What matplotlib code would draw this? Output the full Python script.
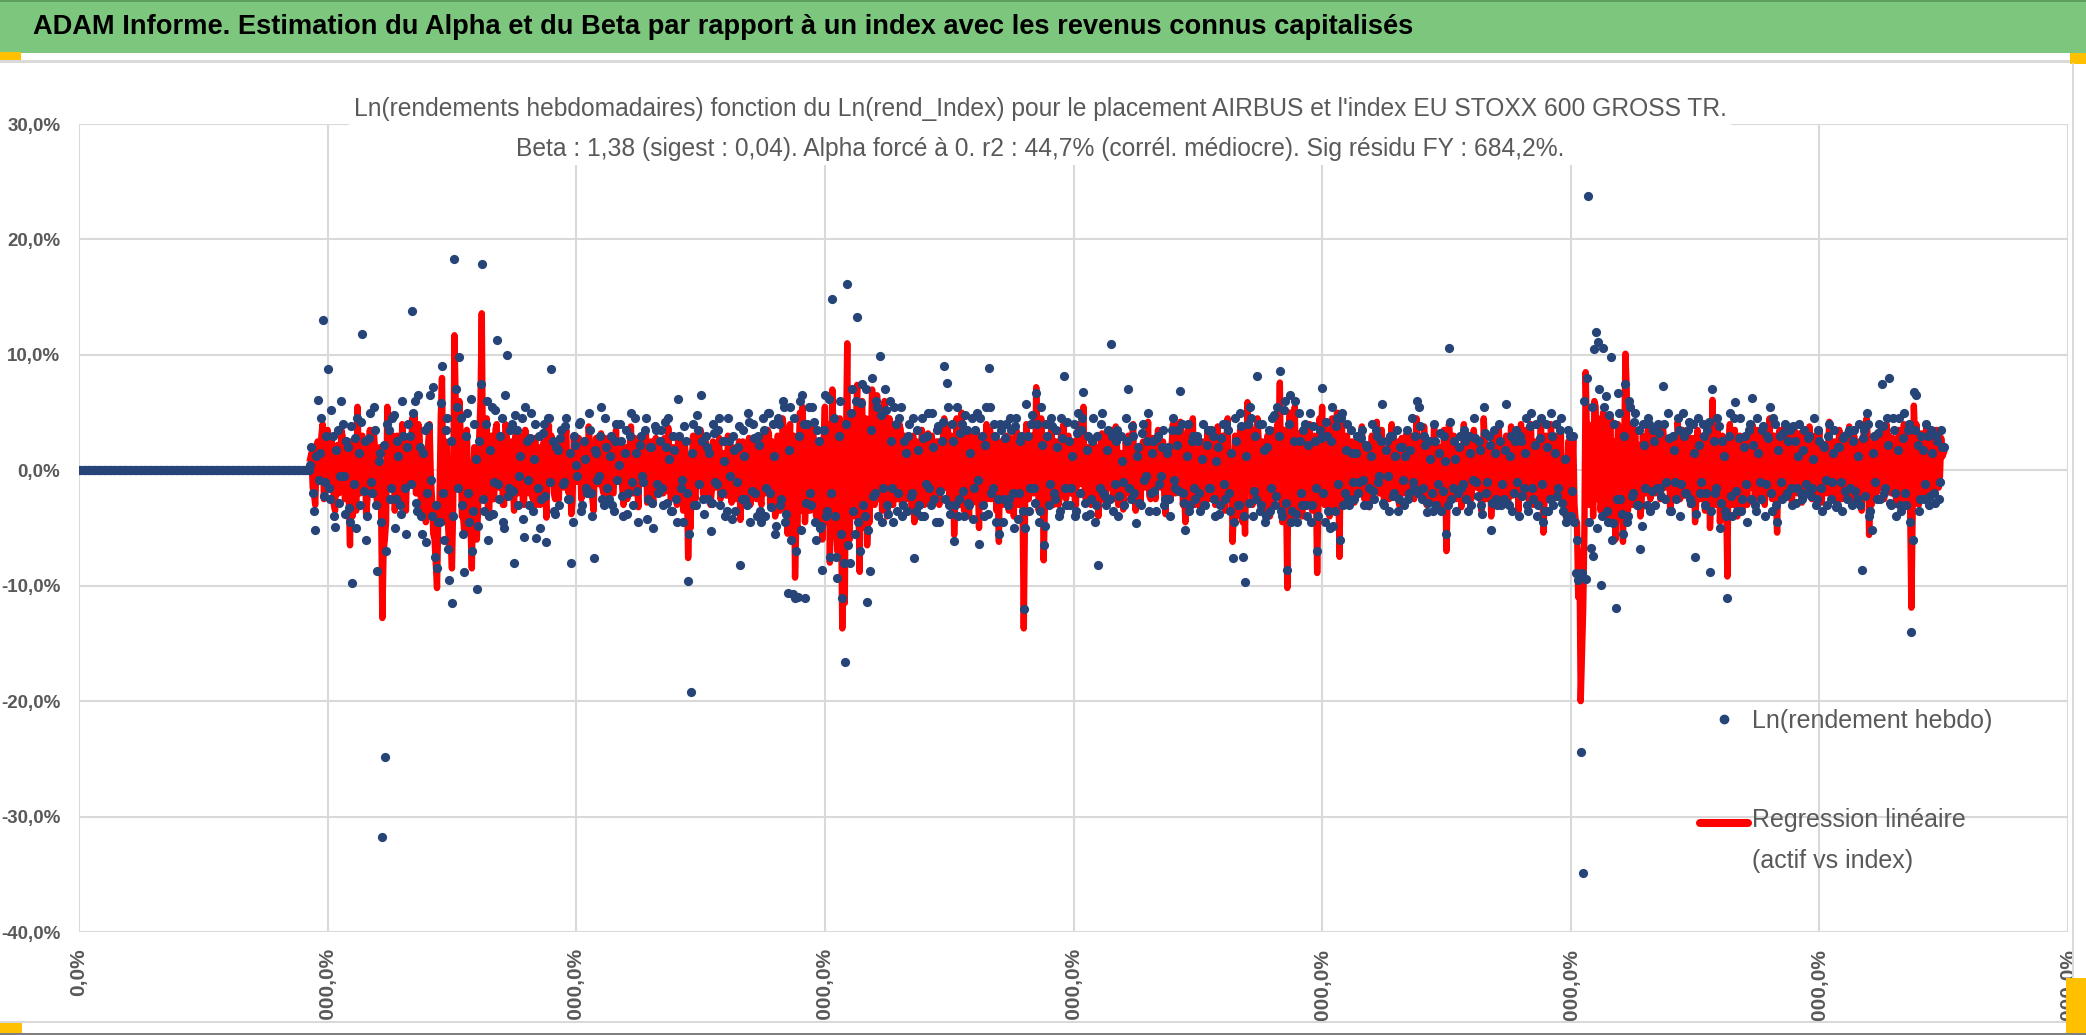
import numpy as np
import matplotlib.pyplot as plt
from matplotlib.patches import Rectangle
from matplotlib.lines import Line2D
from matplotlib.legend_handler import HandlerLine2D
from matplotlib.ticker import FuncFormatter, MultipleLocator

W, H = 2086, 1035
plt.rcParams['font.family'] = ['Liberation Sans', 'DejaVu Sans']

BLUE = '#264478'
RED = '#ff0000'
GREY_TXT = '#595959'

# ---------------- data : weekly log returns, in % ----------------
# weeks before the listing: no quotation, return = 0
weeks_avant = np.arange(0, 186)
rend_avant = np.zeros(len(weeks_avant))

weeks = np.arange(186, 1501)   # even weeks 186..1500, odd weeks 187..1499

# Ln(rendement hebdo) of the asset, tenths of %, even weeks
rend_paires = """
5 -20 -52 61 15 130 -10 88 -25 30 -49 35 -5 40 -38 20 -45 -98 28 45
-30 118 25 -40 50 -20 35 -87 15 -318 -248 40 -25 45 -50 25 -30 60 -15 20
30 138 60 -35 20 -55 35 -20 65 -40 -75 -85 -45 90 -60 45 -95 -115 183 55
98 -30 -88 50 -45 -70 40 -103 25 179 -35 60 -40 55 -10 113 -25 45 -50 100
-15 40 -80 35 -5 45 -58 25 -30 50 10 -59 30 -25 40 -62 45 88 -35 20
-30 35 -10 45 -25 -80 30 5 40 -35 25 -15 50 -20 -76 15 -5 55 -30 20
-25 30 -35 40 5 25 -40 35 -20 50 -30 15 -45 30 -10 45 -25 20 -50 35
-20 35 -30 20 45 -35 30 -25 62 -15 -45 25 -96 -192 40 -30 35 65 -25 30
-25 -53 40 -10 35 -30 25 -40 45 -5 30 -35 20 -82 35 -25 50 -45 40 -20
30 -35 45 -40 50 -20 40 -55 45 -30 60 -45 -106 55 -107 -111 -110 60 65 -111
40 -20 55 -45 35 -50 -86 65 -35 -75 148 -40 -93 60 -111 -166 161 -80 70 -55
133 -70 75 -40 -114 -87 80 -20 55 99 -45 70 -30 60 -15 55 -35 45 -40 25
-35 40 -20 -76 35 -30 45 -40 30 -15 50 -25 35 -45 25 90 76 -30 40 -61
55 -25 40 -40 35 -30 45 -15 50 -64 30 -40 55 89 -20 40 -45 -55 35 -25
40 -25 35 -50 45 -20 30 -120 57 -35 40 -15 67 -45 55 -65 40 -30 45 -20
35 -40 45 82 -30 25 -15 40 -35 50 35 68 -40 30 -25 45 -30 -82 40 -20
-30 35 109 -35 25 -40 30 -10 45 70 -25 30 -46 20 -30 40 -5 50 -20 25
-35 30 -5 35 -25 20 -40 45 -15 35 69 -20 -52 40 -30 30 -25 25 -35 40
-30 35 -15 30 -40 20 -30 40 -25 35 -35 -76 45 -30 50 -75 -97 40 55 -40
30 82 -35 40 -45 20 -35 45 -30 55 86 -40 60 -86 65 -35 60 -45 25 -30
40 -40 50 -30 25 -70 35 71 -45 30 -50 55 -35 45 -60 50 -20 40 -30 15
-25 30 -10 35 -30 20 -15 40 -25 30 -5 57 -30 25 -35 30 -20 35 -25 20
-30 35 -20 45 -15 60 55 -25 30 -36 25 -20 40 -30 15 -35 30 -55 106 -25
25 -35 20 -15 35 -25 30 -30 45 -10 25 -30 55 -20 30 -52 35 -25 40 -30
-25 57 -30 30 -20 35 -40 25 -15 45 -35 50 -25 40 -30 45 -45 40 -35 50
-30 40 -15 45 -35 -45 35 -40 30 -89 -95 -244 -349 -94 238 -67 -74 120 111 -99
106 64 -45 98 -46 -119 67 -25 -55 75 -40 55 -20 50 -30 -68 40 -15 45 -35
35 -30 40 -15 73 -25 50 -35 30 -10 45 -40 50 -20 35 -25 40 -75 45 -20
40 -30 35 -88 70 -20 45 -50 25 -35 -111 50 -40 59 -35 45 -25 30 -45 40
63 -30 45 -10 35 -40 30 55 -35 40 -45 30 -25 40 -20 35 -30 25 -15 40
-25 35 -20 30 -15 45 -25 25 -35 20 -30 40 -10 35 -30 20 -35 30 -25 35
-30 35 -25 40 -86 35 50 -40 -52 30 -25 40 75 -20 45 80 -30 35 -40 45
-35 50 -30 40 -140 68 65 -35 30 -25 40 -30 35 -20 30 -25 35 20
"""

# Ln(rendement hebdo), tenths of %, odd weeks
rend_impaires = """
20 -35 12 -8 45 -22 30 -15 52 -40 18 -28 60 -5 25 -33 38 -12 -50 15
42 -18 -60 28 -10 55 -30 8 -45 22 -70 35 -15 48 -25 12 -38 30 -55 40
-12 50 -28 65 -40 15 -62 38 -8 72 -30 -45 58 -20 35 -68 25 -40 70 -15
45 -55 30 -20 62 -35 10 -48 75 -25 40 -60 18 -38 52 -12 30 -45 65 -22
35 -18 48 -30 12 -42 55 -8 28 -35 40 -15 -50 32 -22 45 -10 25 -38 18
28 -12 38 -25 15 -45 22 -5 42 -30 10 -20 35 -40 18 -8 30 -25 45 -15
12 -30 25 -8 40 -22 15 -38 30 -10 45 -18 22 -5 35 -42 20 -28 38 -12
25 -15 42 -28 10 -35 18 -45 30 -8 38 -20 -55 15 -30 48 -12 25 -38 20
15 -28 32 -12 45 -20 8 -35 25 -42 18 -10 38 -25 12 -30 42 -18 28 -40
22 -45 35 -15 50 -32 12 -48 40 -25 55 -38 18 -60 45 -70 30 -52 40 -28
55 -30 42 -60 25 -48 35 -40 62 -20 45 -75 30 -55 -80 40 -65 50 -35 60
-45 58 -30 70 -52 35 -22 60 -40 48 -15 52 -38 25 -45 40 -20 55 -30 15
30 -22 45 -35 18 -40 28 -12 50 -30 20 -45 38 -18 42 -25 55 -38 25 -30
-40 32 -18 48 -28 15 -42 35 -8 45 -30 22 -38 55 -15 30 -25 40 -45 28
-30 45 -20 38 -42 25 -35 -50 30 -15 48 -28 40 -35 22 -48 30 -12 38 -25
20 -35 28 -15 42 -30 12 -40 32 -20 45 -28 18 -38 25 -45 30 -15 50 -22
18 -25 30 -12 35 -22 8 -30 25 -15 38 -20 12 -28 32 -8 25 -35 15 -18
28 -12 20 -30 15 -25 35 -8 22 -18 40 -28 12 -35 25 -15 30 -20 10 -30
22 -15 35 -25 8 -38 28 -12 40 -20 15 -45 25 -30 38 -40 12 -28 45 -18
-25 40 -30 18 -40 35 -15 48 -22 30 -35 52 -28 40 -45 25 -38 50 -20 35
-30 22 -45 38 -15 -40 28 -20 42 -35 25 -48 38 -12 45 -30 18 -25 35 -10
15 -20 28 -8 22 -30 12 -18 35 -10 25 -28 18 -5 30 -22 12 -35 20 -8
12 -25 18 -10 30 -20 38 -15 22 -28 10 -35 25 -12 32 -18 8 -30 42 -15
10 -20 30 -12 25 -35 15 -8 28 -22 18 -38 32 -10 22 -28 15 -30 25 -12
18 -28 12 -35 25 -10 30 -22 15 -30 38 -15 22 -40 28 -12 -35 20 -25 30
15 -22 35 -28 10 -40 30 -18 -45 -60 -92 -89 60 80 -45 55 105 -50 70 -40
55 -35 48 -60 40 -25 50 -38 30 -45 60 -22 42 -30 35 -48 22 -30 40 -18
25 -15 32 -22 40 -10 28 -35 18 -25 35 -12 30 -20 42 -28 15 -38 22 -10
30 -20 42 -35 25 -15 38 -28 12 -40 30 -22 45 -18 28 -35 20 -12 35 -25
22 -35 15 -25 38 -12 28 -20 45 -30 18 -10 32 -22 25 -15 38 -28 12 -20
18 -12 28 -22 10 -30 35 -15 22 -8 30 -25 15 -32 20 -10 28 -18 32 -15
25 -18 12 -30 28 -22 40 -35 15 -10 32 -25 38 -15 22 -28 45 -20 18 -30
28 -20 35 -45 -60 35 22 -25 18 -12 30 -22 15 -28 25 -10 20
"""

# regression line (beta x Ln(rend_Index)), tenths of %, even weeks
reg_paires = """
10 -15 -30 25 8 40 -20 35 -10 15 -35 22 -18 30 -25 12 -65 -40 20 55
-20 30 15 -25 35 -15 20 -30 20 -128 -60 55 -10 25 -35 30 -15 40 -20 10
25 45 49 -20 30 -40 15 -35 40 -25 -60 -102 -30 80 -45 20 -70 -85 117 40
60 -40 -55 35 -30 -85 20 -60 30 136 -20 45 -35 30 -25 40 -15 25 -30 35
-20 25 -35 20 -15 30 -30 15 -20 25 -10 -30 20 -15 25 -41 39 30 -20 15
-25 28 -15 35 -20 -38 30 -10 28 -25 22 -20 38 -15 -35 28 -12 32 -20 25
-22 28 -20 35 -10 25 -30 20 -15 38 -20 18 -32 28 -10 35 -20 25 -30 28
-15 25 -20 15 37 -25 20 -15 30 -20 -35 15 -76 -50 30 -25 20 35 -20 25
-20 -30 25 -15 20 -25 15 -20 30 -15 20 -25 15 -43 25 -20 15 -30 25 -15
20 -25 30 -20 35 -30 25 -40 30 -35 45 -30 -55 40 -60 -93 -50 50 55 -45
30 -35 40 -30 25 -40 -60 55 -45 -80 70 -55 -70 45 -137 -115 110 -60 50 -40
74 -88 60 -50 -65 -45 70 -30 65 50 -35 60 -40 45 -30 35 -25 40 -30 30
-25 30 -35 -45 25 -20 35 -30 20 -25 30 -15 25 -30 20 45 40 -25 30 -56
45 -30 50 -35 25 -40 30 -20 35 -50 25 -30 40 35 -25 30 -35 -62 25 -20
30 -35 25 -40 35 -30 20 -137 40 -25 30 -20 72 -35 45 -78 30 -25 35 -30
25 -30 35 40 -25 30 -20 25 -30 40 30 55 -25 20 -30 25 -20 -40 30 -25
-28 32 35 -25 38 -30 15 -34 25 30 -22 40 -35 15 -30 25 -15 42 -25 28
-25 35 -15 25 -38 15 -25 40 -20 40 42 -30 -45 35 -28 45 -30 20 -32 25
-30 35 -25 28 -30 38 -20 30 -35 45 -25 -62 30 -40 35 -45 -55 59 40 -30
35 45 -30 25 -35 30 -40 35 -25 40 76 -45 35 -102 50 -40 55 -35 30 -40
35 -30 40 -35 30 -89 45 55 -30 35 -40 45 -30 50 -75 40 -25 30 -20 25
-28 25 -15 38 -25 15 -32 30 -15 42 -20 35 -28 15 -25 40 -15 25 -30 28
-20 32 -25 30 -25 45 30 -20 38 -30 20 -28 40 -25 20 -30 35 -70 40 -20
30 -25 15 -32 40 -15 28 -25 35 -15 20 -35 45 -25 20 -40 32 -20 38 -25
-28 30 -25 38 -15 25 -35 40 -20 35 -25 40 -30 25 -28 45 -54 30 -25 40
-25 30 -20 35 -30 -40 25 -35 30 -45 -110 -200 -120 85 40 30 -40 55 45 -35
50 -30 -40 45 -35 -60 40 -30 -62 101 -35 40 -30 35 -25 -40 30 -20 35 -25
32 -20 38 -25 40 -15 25 -35 30 -20 42 -25 35 -22 30 -30 28 -45 35 -25
30 -35 25 -50 61 -30 35 -45 30 -25 -92 40 -30 35 -40 30 -35 25 -30 35
40 -25 35 -20 30 -30 28 45 -25 30 -54 35 -20 38 -15 30 -28 35 -20 32
-28 32 -15 38 -25 30 -15 35 -28 15 -20 42 -22 25 -30 35 -25 28 -15 38
-25 30 -20 25 -35 40 45 -56 -30 25 -20 30 35 -25 40 30 -20 25 -30 35
-30 40 -25 30 -119 56 40 -30 32 -20 38 -25 30 -20 35 -15 28 15
"""

# regression line, tenths of %, odd weeks
reg_impaires = """
15 -20 5 -10 30 -25 18 -5 28 -30 10 -20 35 -8 15 -22 25 -12 -35 10
28 -10 -40 15 -5 35 -20 8 -30 -70 -45 20 -10 30 -15 8 -25 20 -35 25
-8 35 -20 40 -25 10 -45 25 -5 -55 -80 -40 45 -15 25 -50 -60 -30 60 -10
30 -40 20 -15 -50 -20 8 -35 60 -10 25 -40 12 -25 35 -8 20 -30 40 -15
22 -12 30 -20 8 -28 35 -5 18 -25 28 -10 -30 20 -15 30 -8 15 -25 12
18 -8 25 -15 10 -28 15 -3 25 -20 8 -12 22 -25 12 -5 20 -15 28 -10
8 -20 15 -5 25 -15 10 -25 20 -8 28 -12 15 -3 22 -28 12 -18 25 -8
15 -10 28 -18 8 -22 12 -30 20 -5 25 -12 -40 10 -20 30 -8 15 -25 12
10 -18 20 -8 28 -12 5 -22 15 -28 12 -5 25 -15 8 -20 28 -12 18 -25
15 -30 22 -10 32 -20 8 -30 25 -15 35 -25 12 -40 30 -45 20 -35 25 -18
35 -20 28 -40 15 -30 22 -25 40 -12 30 -50 20 -35 -60 25 -45 32 -22 40
-30 38 -20 45 -35 22 -15 40 -25 30 -10 35 -25 15 -30 25 -12 35 -20 10
20 -15 30 -22 12 -25 18 -8 32 -20 12 -28 25 -12 28 -15 35 -25 15 -20
-25 20 -12 30 -18 10 -28 22 -5 28 -20 15 -25 35 -10 20 -15 25 -30 18
-20 28 -12 25 -28 15 -22 -35 20 -10 30 -18 25 -22 15 -30 20 -8 25 -15
12 -22 18 -10 28 -20 8 -25 20 -12 30 -18 12 -25 15 -28 20 -10 32 -15
12 -15 20 -8 22 -15 5 -20 15 -10 25 -12 8 -18 20 -5 15 -22 10 -12
18 -8 12 -20 10 -15 22 -5 15 -12 25 -18 8 -22 15 -10 20 -12 5 -20
15 -10 22 -15 5 -25 18 -8 25 -12 10 -30 15 -20 25 -25 8 -18 30 -12
-15 25 -20 12 -25 22 -10 30 -15 20 -22 35 -18 25 -30 15 -25 32 -12 22
-20 15 -28 25 -10 -25 18 -12 28 -22 15 -30 25 -8 30 -20 12 -15 22 -5
10 -12 18 -5 15 -20 8 -12 22 -5 15 -18 12 -3 20 -15 8 -22 12 -5
8 -15 12 -5 20 -12 25 -10 15 -18 5 -22 15 -8 20 -12 5 -20 28 -10
5 -12 20 -8 15 -22 10 -5 18 -15 12 -25 20 -5 15 -18 10 -20 15 -8
12 -18 8 -22 15 -5 20 -15 10 -20 25 -10 15 -25 18 -8 -22 12 -15 20
10 -15 22 -18 5 -25 20 -12 -30 -45 -70 -160 -50 30 -30 35 60 -25 40 -20
35 -20 30 -40 25 -15 32 -25 20 70 40 -15 28 -20 22 -30 15 -20 25 -12
15 -10 20 -15 25 -5 18 -22 12 -15 22 -8 20 -12 28 -18 10 -25 15 -5
20 -12 28 -22 15 -10 25 -18 8 -25 20 -15 30 -12 18 -22 12 -8 22 -15
15 -22 10 -15 25 -8 18 -12 30 -20 12 -5 20 -15 15 -10 25 -18 8 -12
12 -8 18 -15 5 -20 22 -10 15 -5 20 -15 10 -22 12 -5 18 -12 20 -10
15 -12 8 -20 18 -15 25 -22 10 -5 20 -15 25 -10 15 -18 28 -12 12 -20
18 -12 22 -30 -40 25 15 -15 12 -8 20 -15 10 -18 15 -5 12
"""


def weekly(paires, impaires):
    # merge even / odd weeks back into one weekly series (tenths of % -> %)
    out = np.empty(len(weeks))
    out[0::2] = np.array(paires.split(), dtype=float) / 10
    out[1::2] = np.array(impaires.split(), dtype=float) / 10
    return out


rend_hebdo = weekly(rend_paires, rend_impaires)
regression = weekly(reg_paires, reg_impaires)

header = ("ADAM Informe. Estimation du Alpha et du Beta par rapport à un index "
          "avec les revenus connus capitalisés")
title = ("Ln(rendements hebdomadaires) fonction du Ln(rend_Index) pour le placement "
         "AIRBUS et l'index EU STOXX 600 GROSS TR.\n"
         "Beta : 1,38 (sigest : 0,04). Alpha forcé à 0. r2 : 44,7% (corrél. médiocre). "
         "Sig résidu FY : 684,2%.")
lab_points = "Ln(rendement hebdo)"
lab_reg = "Regression linéaire\n(actif vs index)"


class TopLineHandler(HandlerLine2D):
    # put the legend line in front of the first line of a two-line label
    def create_artists(self, legend, orig_handle, xdescent, ydescent,
                       width, height, fontsize, trans):
        arts = super().create_artists(legend, orig_handle, xdescent, ydescent,
                                      width, height, fontsize, trans)
        for a in arts:
            a.set_ydata(np.asarray(a.get_ydata()) + 0.72 * fontsize)
        return arts


fig = plt.figure(figsize=(W / 100, H / 100), dpi=100)

# ---- frame decorations (header band, borders) ----
def band(x, y, w, h, color, z=0):
    fig.patches.append(Rectangle((x / W, 1 - (y + h) / H), w / W, h / H, transform=fig.transFigure,
                                 facecolor=color, edgecolor='none', zorder=z))


band(0, 0, W, 53, '#7dc67d')
band(0, 0, W, 2, '#5e9e5e')
band(0, 60, W, 3, '#d9d9d9')
band(0, 52, 21, 8, '#ffc000', 1)
band(W - 16, 53, 16, 11, '#ffc000', 1)
fig.text(33 / W, 1 - 27 / H, header, fontsize=19.6, fontweight='bold', color='black',
         ha='left', va='center')

ax = fig.add_axes([79 / W, 1 - 932 / H, (2068 - 79) / W, (932 - 124) / H])

ax.plot(weeks, regression, color=RED, lw=4.6, solid_joinstyle='round', zorder=2)
ax.scatter(np.r_[weeks_avant, weeks], np.r_[rend_avant, rend_hebdo], s=44,
           color=BLUE, linewidths=0, zorder=3)

ax.set_xlim(0, 1600)
ax.set_ylim(-40, 30)
ax.xaxis.set_major_locator(MultipleLocator(200))
ax.yaxis.set_major_locator(MultipleLocator(10))
ax.xaxis.set_major_formatter(FuncFormatter(lambda v, p: f"{v * 100:.1f}%".replace('.', ',')))
ax.yaxis.set_major_formatter(FuncFormatter(lambda v, p: f"{v:.1f}%".replace('.', ',')))
ax.grid(True, color='#d9d9d9', lw=1.5)
ax.set_axisbelow(True)
for s in ax.spines.values():
    s.set_visible(False)
ax.tick_params(length=0, labelcolor=GREY_TXT)
ax.tick_params(axis='y', pad=13.5, labelsize=13.5)
ax.tick_params(axis='x', pad=11.5, labelrotation=90, labelsize=15)
plt.setp(ax.get_xticklabels() + ax.get_yticklabels(), fontweight='bold')

h_pts = Line2D([], [], ls='none', marker='o', ms=6, color=BLUE)
h_reg = Line2D([], [], color=RED, lw=5.8, solid_capstyle='round')
leg = ax.legend([h_pts, h_reg], [lab_points, lab_reg], loc='upper left',
                bbox_to_anchor=(1700 / W, 1 - 709 / H), bbox_transform=fig.transFigure,
                frameon=False, borderpad=0, borderaxespad=0, handlelength=1.9,
                handletextpad=0.2, labelspacing=3.0, labelcolor=GREY_TXT,
                prop=dict(size=18), handler_map={h_reg: TopLineHandler()})
for t in leg.get_texts():
    t.set_linespacing(1.9)

fig.text(1040 / W, 1 - 129 / H, title, fontsize=17.7, color=GREY_TXT, ha='center', va='center',
         multialignment='center', linespacing=1.87,
         bbox=dict(facecolor='white', edgecolor='none', pad=3), zorder=5)

# bottom of the chart frame cuts the rotated x labels
band(0, 1021, W, H - 1021, 'white', 10)
band(0, 1021, W, 2, '#d9d9d9', 11)
band(0, H - 2, W, 2, '#7f7f7f', 11)
band(0, 1023, 22, 10, '#ffc000', 12)
band(W - 20, 978, 20, 55, '#ffc000', 12)
band(W - 14, 63, 2, 958, '#d9d9d9', 11)

fig.savefig('out.png', dpi=100, facecolor='white')
